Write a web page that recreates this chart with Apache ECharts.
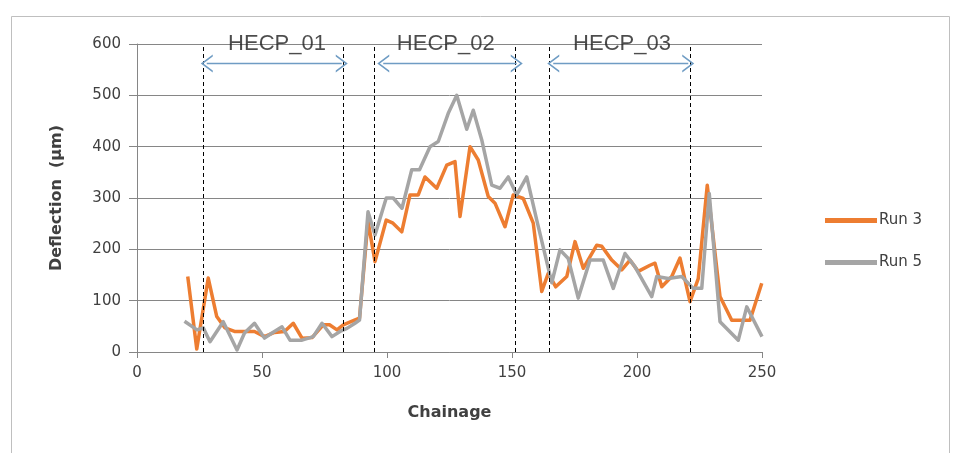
<!DOCTYPE html>
<html>
<head>
<meta charset="utf-8">
<script src="https://cdn.jsdelivr.net/npm/echarts@6/dist/echarts.min.js"></script>
<style>
html,body{margin:0;padding:0;background:#fff;}
#chart{width:955px;height:453px;}
</style>
</head>
<body>
<div id="chart"></div>
<script>
// ---- data ----
var run3X = [20.3, 23.9, 28.5, 31.9, 35.2, 39, 43, 47, 51, 55, 59, 62.5, 66, 70, 74.5, 77, 80, 82.5, 87, 89, 92.4, 95.2, 99.7, 102.4, 105.9, 109.2, 112.5, 115.2, 119.9, 123.9, 127.2, 129.2, 133.2, 136.5, 140.5, 143.2, 147.2, 150.5, 154.5, 158.5, 161.9, 164.5, 167.5, 171.9, 175.2, 178.5, 183.9, 185.9, 189.9, 193.9, 197.2, 200.5, 205.2, 207.2, 209.9, 213.9, 217.2, 221.2, 224.5, 228.1, 233.2, 237.9, 245.2, 249.9];
var run3Y = [147, 6, 144, 69, 47, 40, 40, 40, 30, 38, 40, 56, 27, 28, 53, 53, 43, 53, 62, 66, 255, 176, 257, 251, 234, 306, 306, 341, 319, 364, 371, 264, 400, 374, 303, 290, 244, 306, 299, 251, 118, 153, 127, 147, 215, 163, 208, 206, 179, 160, 179, 157, 169, 173, 127, 147, 183, 98, 143, 325, 108, 62, 62, 134];
var run5X = [19, 24, 26.5, 29.2, 34.5, 40, 43, 47, 51, 54, 58, 61.2, 66, 70.5, 74, 78, 81.2, 84, 87.2, 89, 92.4, 95.2, 99.7, 102.5, 106, 109.9, 113, 117.2, 120.5, 124.5, 127.9, 131.9, 134.5, 137.9, 141.9, 145.2, 148.5, 151.9, 155.9, 159.9, 165.9, 169.2, 172.5, 176.5, 181.2, 186.5, 190.5, 195.2, 199.2, 205.9, 207.9, 212.5, 217.9, 222.5, 225.9, 228.9, 233.2, 240.5, 243.9, 250];
var run5Y = [60, 43, 47, 20, 59, 4, 37, 56, 27, 37, 49, 23, 23, 30, 56, 30, 40, 46, 56, 62, 273, 228, 300, 300, 280, 355, 355, 400, 410, 465, 500, 434, 471, 413, 325, 319, 341, 306, 341, 257, 135, 199, 182, 105, 179, 179, 124, 192, 166, 108, 147, 143, 147, 124, 124, 309, 59, 23, 88, 30];
var sectionBounds = [26.5, 82.5, 95, 151.2, 165, 221.2];
var arrowStarts = [27.9, 98.5, 166.5];
var arrowEnds = [81.9, 151.9, 220.5];
var arrowLevel = 562;
var sectionNames = ['HECP_01', 'HECP_02', 'HECP_03'];
var sectionLabelX = [56, 123.5, 194];
var sectionLabelY = 600;
var xTicks = [0, 50, 100, 150, 200, 250];
var yTicks = [0, 100, 200, 300, 400, 500, 600];

function zip(xs, ys) { return xs.map(function (x, i) { return [x, ys[i]]; }); }

var chevron = 'path://M0,10 L5,0 L10,10 L8.9,10 L5,2.2 L1.1,10 Z';

var chart = echarts.init(document.getElementById('chart'), null, {renderer: 'canvas'});
var axisFont = 'DejaVu Sans';
var option = {
  animation: false,
  backgroundColor: '#ffffff',
  graphic: [{
    type: 'rect', left: 9, top: 14, z: -1,
    shape: {width: 938, height: 460},
    style: {fill: 'none', stroke: '#bfbfbf', lineWidth: 1}
  }],
  grid: {left: 137, right: 193, top: 44, bottom: 101},
  legend: {
    orient: 'vertical',
    left: 820, top: 208,
    itemWidth: 52, itemHeight: 14, itemGap: 27,
    data: ['Run 3', 'Run 5'],
    textStyle: {fontFamily: axisFont, fontSize: 15, color: '#404040', padding: [0, 0, 0, -3]},
    icon: 'path://M0,0 L10,0 L10,1 L0,1 Z'
  },
  xAxis: {
    type: 'value', min: 0, max: 250, interval: 50,
    name: 'Chainage', nameLocation: 'middle', nameGap: 53,
    nameTextStyle: {fontFamily: axisFont, fontSize: 16, fontWeight: 'bold', color: '#404040'},
    axisLine: {show: true, lineStyle: {color: '#868686', width: 1}},
    axisTick: {show: true, length: 6, lineStyle: {color: '#868686'}},
    axisLabel: {fontFamily: axisFont, fontSize: 15, color: '#404040', margin: 14,
      formatter: function (v) { return xTicks.indexOf(v) >= 0 ? String(v) : ''; }},
    splitLine: {show: false}
  },
  yAxis: {
    type: 'value', min: 0, max: 600, interval: 100,
    name: 'Deflection  (\u03bcm)', nameLocation: 'middle', nameGap: 72, nameRotate: 90,
    nameTextStyle: {fontFamily: axisFont, fontSize: 16, fontWeight: 'bold', color: '#404040'},
    axisLine: {show: true, lineStyle: {color: '#868686', width: 1}},
    axisTick: {show: true, length: 8, lineStyle: {color: '#868686'}},
    axisLabel: {fontFamily: axisFont, fontSize: 15, color: '#404040', margin: 16,
      formatter: function (v) { return yTicks.indexOf(v) >= 0 ? String(v) : ''; }},
    splitLine: {show: true, lineStyle: {color: '#868686', width: 1}}
  },
  series: [
    {
      name: 'Run 3', type: 'line', data: zip(run3X, run3Y),
      showSymbol: false, symbol: 'none', z: 3,
      lineStyle: {color: '#ED7D31', width: 3.5, join: 'round'},
      itemStyle: {color: '#ED7D31'}
    },
    {
      name: 'Run 5', type: 'line', data: zip(run5X, run5Y),
      showSymbol: false, symbol: 'none', z: 4,
      lineStyle: {color: '#A5A5A5', width: 3.5, join: 'round'},
      itemStyle: {color: '#A5A5A5'}
    },
    {
      name: 'sections', type: 'line', data: [], z: 5, silent: true,
      markLine: {
        silent: true, symbol: ['none', 'none'], animation: false,
        label: {show: false},
        lineStyle: {color: '#000000', type: [4, 3], width: 1},
        data: sectionBounds.map(function (b) { return {xAxis: b}; })
      }
    },
    {
      name: 'arrows', type: 'line', data: [], z: 5, silent: true,
      markLine: {
        silent: true, animation: false,
        symbol: [chevron, chevron], symbolSize: [18, 12],
        label: {show: false},
        lineStyle: {color: '#6f9cc4', type: 'solid', width: 1.3},
        itemStyle: {color: '#6f9cc4'},
        data: arrowStarts.map(function (s, i) {
          return [{coord: [s, arrowLevel]}, {coord: [arrowEnds[i], arrowLevel]}];
        })
      }
    },
    {
      name: 'labels', type: 'scatter', z: 6, silent: true,
      symbolSize: 0,
      data: sectionNames.map(function (n, i) { return {name: n, value: [sectionLabelX[i], sectionLabelY]}; }),
      label: {show: true, position: 'inside', formatter: '{b}',
        fontFamily: 'Liberation Sans', fontSize: 22, color: '#1f1f1f',
        textBorderWidth: 0, textShadowBlur: 0}
    }
  ]
};
chart.setOption(option);
</script>
</body>
</html>
